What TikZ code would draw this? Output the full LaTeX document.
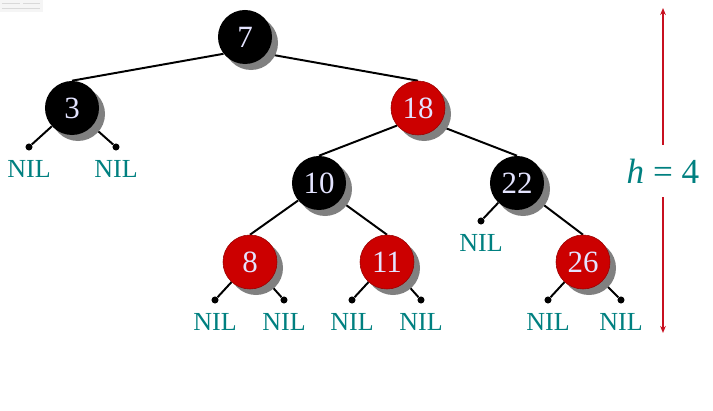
\documentclass[tikz,border=0pt]{standalone}
\usepackage{fontspec}
\setmainfont{Liberation Serif}
\usetikzlibrary{arrows.meta,positioning,shadows,backgrounds}
\definecolor{rbred}{RGB}{204,0,0}
\definecolor{niltext}{RGB}{0,128,128}
\definecolor{keytext}{RGB}{228,228,255}
\definecolor{harrowred}{RGB}{200,16,32}

\tikzset{
  rbnode/.style={circle, minimum size=1.35cm, inner sep=0pt,
    font=\fontsize{22}{22}\selectfont, text=keytext,
    drop shadow={shadow xshift=0.15cm, shadow yshift=-0.15cm,
      fill=black!50, opacity=1}},
  blacknode/.style={rbnode, fill=black},
  rednode/.style={rbnode, fill=rbred, draw=rbred!75!black, thin},
  nildot/.style={circle, fill=black, inner sep=0pt, minimum size=5pt},
  nillabel/.style={text=niltext, font=\fontsize{18.5}{18.5}\selectfont, inner sep=0pt},
  treeedge/.style={line width=1.4pt, black},
  harrow/.style={-{Stealth[length=5pt,width=4pt]}, line width=1pt, harrowred}
}

\begin{document}
\begin{tikzpicture}[x=0.025cm, y=-0.025cm]
  \useasboundingbox (0,0) rectangle (713,411);
  % small faded thumbnail in the corner
  \fill[gray!8] (0,0) rectangle (43,12);
  \draw[gray!30, line width=0.3pt] (2,3) -- (20,3) (23,3) -- (40,3) (2,8) -- (40,8);

  % tree nodes
  \node[blacknode] (n7)  at (245,37)  {7};
  \node[blacknode] (n3)  at (72,108)  {3};
  \node[rednode]   (n18) at (418,108) {18};
  \node[blacknode] (n10) at (319,183) {10};
  \node[blacknode] (n22) at (517,183) {22};
  \node[rednode]   (n8)  at (250,262) {8};
  \node[rednode]   (n11) at (387,262) {11};
  \node[rednode]   (n26) at (583,262) {26};

  % leaves
  \node[nildot] (d3a)  at (29,147)  {};
  \node[nildot] (d3b)  at (116,147) {};
  \node[nildot] (d22)  at (481,221) {};
  \node[nildot] (d8a)  at (215,300) {};
  \node[nildot] (d8b)  at (284,300) {};
  \node[nildot] (d11a) at (352,300) {};
  \node[nildot] (d11b) at (421,300) {};
  \node[nildot] (d26a) at (548,300) {};
  \node[nildot] (d26b) at (621,300) {};

  \node[nillabel, below=7pt of d3a]  (l3a)  {NIL};
  \node[nillabel, below=7pt of d3b]  (l3b)  {NIL};
  \node[nillabel, below=7pt of d22]  (l22)  {NIL};
  \node[nillabel, below=7pt of d8a]  (l8a)  {NIL};
  \node[nillabel, below=7pt of d8b]  (l8b)  {NIL};
  \node[nillabel, below=7pt of d11a] (l11a) {NIL};
  \node[nillabel, below=7pt of d11b] (l11b) {NIL};
  \node[nillabel, below=7pt of d26a] (l26a) {NIL};
  \node[nillabel, below=7pt of d26b] (l26b) {NIL};

  % edges behind the nodes
  \begin{scope}[on background layer]
    \draw[treeedge] (n7.-142) -- (n3.north);
    \draw[treeedge] (n7.-38) -- (n18.north);
    \draw[treeedge] (n18.-140) -- (n10.north);
    \draw[treeedge] (n18.-40) -- (n22.north);
    \draw[treeedge] (n10.-140) -- (n8.north);
    \draw[treeedge] (n10.-40) -- (n11.north);
    \draw[treeedge] (n22.-40) -- (n26.north);
    \draw[treeedge] (n3) -- (d3a);
    \draw[treeedge] (n3) -- (d3b);
    \draw[treeedge] (n22) -- (d22);
    \draw[treeedge] (n8) -- (d8a);
    \draw[treeedge] (n8) -- (d8b);
    \draw[treeedge] (n11) -- (d11a);
    \draw[treeedge] (n11) -- (d11b);
    \draw[treeedge] (n26) -- (d26a);
    \draw[treeedge] (n26) -- (d26b);
  \end{scope}

  % height
  \node[text=niltext, font=\fontsize{25}{25}\selectfont, minimum height=1.3cm,
    inner sep=0pt] (hlabel) at (663,171) {\textit{h} = 4};
  \coordinate (htop) at (663,8);
  \coordinate (hbot) at (663,333);
  \draw[harrow] (hlabel.north) -- (htop);
  \draw[harrow] (hlabel.south) -- (hbot);
\end{tikzpicture}
\end{document}
